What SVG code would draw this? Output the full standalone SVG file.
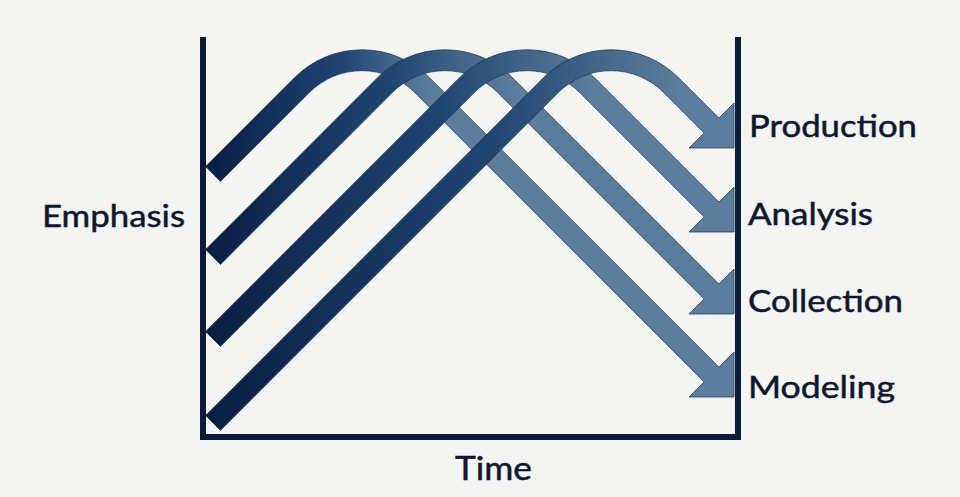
<svg xmlns="http://www.w3.org/2000/svg" width="960" height="497" viewBox="0 0 960 497">
  <defs>
    <linearGradient id="g1" gradientUnits="userSpaceOnUse" x1="213" y1="0" x2="430" y2="0">
      <stop offset="0" stop-color="#0b1f45"/><stop offset="0.6" stop-color="#1f4672"/><stop offset="1" stop-color="#5d7d9c"/>
    </linearGradient>
    <linearGradient id="g2" gradientUnits="userSpaceOnUse" x1="213" y1="0" x2="513" y2="0">
      <stop offset="0" stop-color="#0b1f45"/><stop offset="0.6" stop-color="#1f4672"/><stop offset="1" stop-color="#5d7d9c"/>
    </linearGradient>
    <linearGradient id="g3" gradientUnits="userSpaceOnUse" x1="213" y1="0" x2="595" y2="0">
      <stop offset="0" stop-color="#0b1f45"/><stop offset="0.6" stop-color="#1f4672"/><stop offset="1" stop-color="#5d7d9c"/>
    </linearGradient>
    <linearGradient id="g4" gradientUnits="userSpaceOnUse" x1="213" y1="0" x2="679" y2="0">
      <stop offset="0" stop-color="#0b1f45"/><stop offset="0.6" stop-color="#1f4672"/><stop offset="1" stop-color="#5d7d9c"/>
    </linearGradient>
  </defs>
  <style>
    .arrow { stroke: #1b3050; stroke-width: 1; stroke-opacity: 0.7; stroke-linejoin: miter; }
    .axis { fill: none; stroke: #0b1a3a; stroke-width: 6; stroke-linejoin: miter; }
    .lbl { font-family: Lato, "Open Sans", "Liberation Sans", sans-serif; font-size: 31px; fill: #0d1830; stroke: #0d1830; stroke-width: 0.5; }
  </style>
  <rect width="960" height="497" fill="#f4f4f2"/>

  <g id="connectors">
    <g id="arrow-modeling">
      <path class="arrow" fill="url(#g1)" d="M 205.6,166.6 L 294.5,77.7 A 95.5 95.5 0 0 1 429.5,77.7 L 718.9,367.1 L 734,352 L 734,397 L 689,397 L 704.1,381.9 L 414.7,92.5 A 74.5 74.5 0 0 0 309.3,92.5 L 220.4,181.4 Z"/>
    </g>
    <g id="arrow-collection">
      <path class="arrow" fill="url(#g2)" d="M 205.6,249.6 L 377.5,77.7 A 95.5 95.5 0 0 1 512.5,77.7 L 718.9,284.1 L 734,269 L 734,314 L 689,314 L 704.1,298.9 L 497.7,92.5 A 74.5 74.5 0 0 0 392.3,92.5 L 220.4,264.4 Z"/>
    </g>
    <g id="arrow-analysis">
      <path class="arrow" fill="url(#g3)" d="M 205.6,331.6 L 459.5,77.7 A 95.5 95.5 0 0 1 594.5,77.7 L 718.9,202.1 L 734,187 L 734,232 L 689,232 L 704.1,216.9 L 579.7,92.5 A 74.5 74.5 0 0 0 474.3,92.5 L 220.4,346.4 Z"/>
    </g>
    <g id="arrow-production">
      <path class="arrow" fill="url(#g4)" d="M 205.6,415.6 L 543.5,77.7 A 95.5 95.5 0 0 1 678.5,77.7 L 718.9,118.1 L 734,103 L 734,148 L 689,148 L 704.1,132.9 L 663.7,92.5 A 74.5 74.5 0 0 0 558.3,92.5 L 220.4,430.4 Z"/>
    </g>
  </g>

  <g id="axes">
    <path class="axis" d="M 203,37 V 437 H 738 V 37"/>
  </g>

  <g id="label-emphasis"><text class="lbl" x="42" y="227" textLength="143" lengthAdjust="spacingAndGlyphs">Emphasis</text></g>
  <g id="label-time"><text class="lbl" x="455" y="480" style="font-size:33px" textLength="77" lengthAdjust="spacingAndGlyphs">Time</text></g>
  <g id="label-production"><text class="lbl" x="749" y="137" textLength="168" lengthAdjust="spacingAndGlyphs">Production</text></g>
  <g id="label-analysis"><text class="lbl" x="748" y="225" textLength="125" lengthAdjust="spacingAndGlyphs">Analysis</text></g>
  <g id="label-collection"><text class="lbl" x="748" y="312" textLength="155" lengthAdjust="spacingAndGlyphs">Collection</text></g>
  <g id="label-modeling"><text class="lbl" x="748" y="398" textLength="147" lengthAdjust="spacingAndGlyphs">Modeling</text></g>
</svg>
